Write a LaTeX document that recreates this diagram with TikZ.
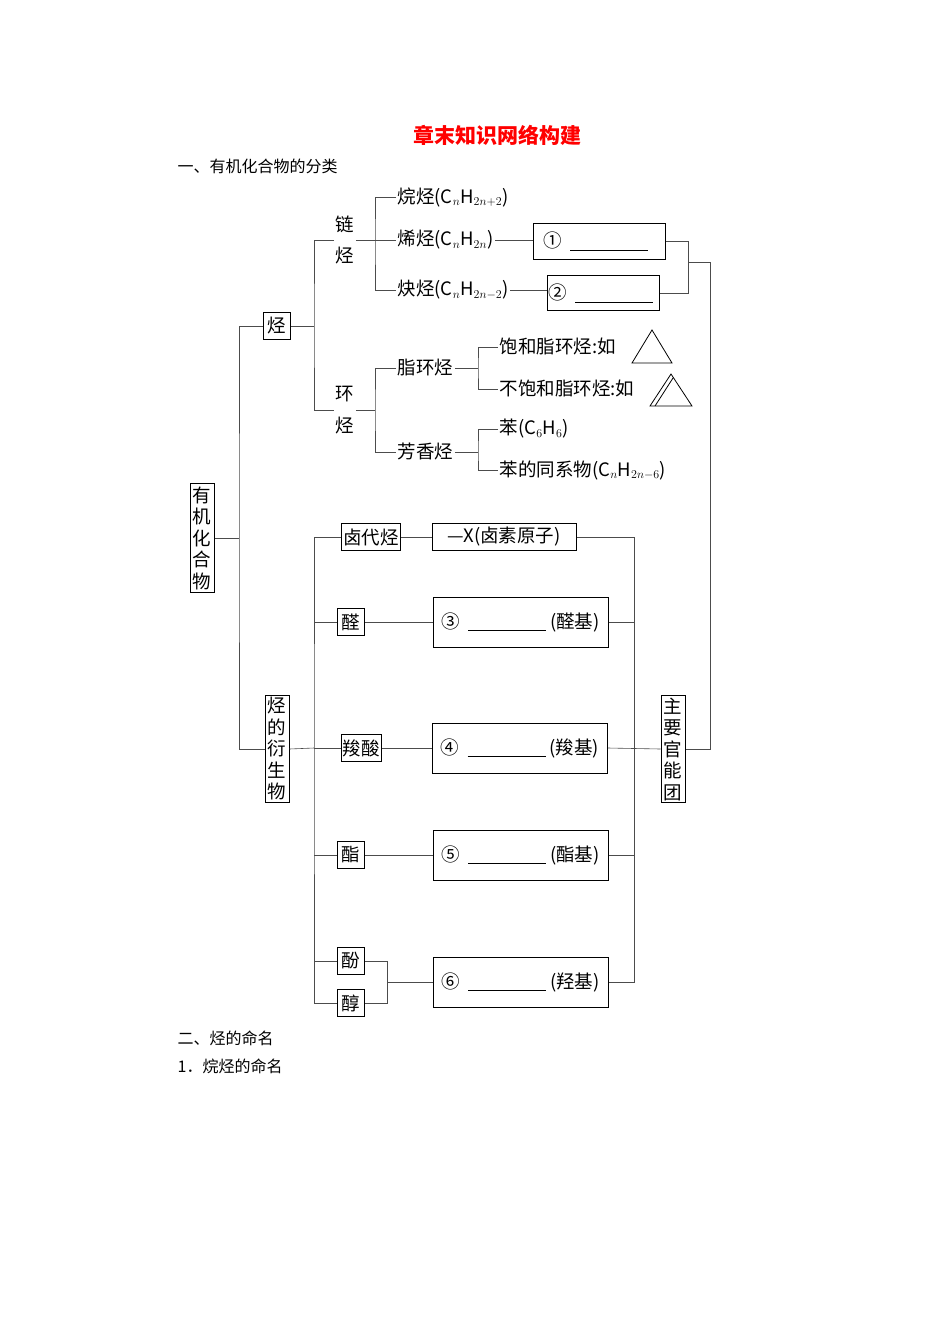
\documentclass[tikz,border=0pt]{standalone}
\usepackage{fontspec}
\setmainfont{Noto Sans CJK SC}
\begin{document}
\begin{tikzpicture}[x=1pt,y=-1pt,
  every node/.style={font=\fontsize{18.5}{18.5}\selectfont, inner sep=1.5pt},
  bx/.style={draw=black, line width=1pt, minimum height=27pt, minimum width=27pt},
  vbx/.style={draw=black, line width=1pt, text width=19pt, align=center, inner sep=2.5pt, font=\fontsize{18.5}{21.5}\selectfont},
  ln/.style={draw=black!70, line width=0.6pt},
  gb/.style={draw=black, line width=1pt, minimum width=175pt, minimum height=50pt}]
\useasboundingbox (0,0) rectangle (950,1344);
\node[text=red, font=\fontsize{21}{21}\selectfont\bfseries] (title) at (497,135) {章末知识网络构建};
\node[anchor=west, font=\fontsize{16}{16}\selectfont] (h1) at (176,166) {一、有机化合物的分类};
\node[anchor=west, font=\fontsize{16}{16}\selectfont] (h2) at (176,1038) {二、烃的命名};
\node[anchor=west, font=\fontsize{16}{16}\selectfont] (h3) at (176,1066) {1．烷烃的命名};

% root
\node[vbx] (org) at (202,538) {有\\机\\化\\合\\物};
\node[bx] (ting) at (277,326) {烃};
\node[vbx] (der) at (277,749) {烃\\的\\衍\\生\\物};
\draw[ln] (org.east) -- (239,538);
\draw[ln] (ting.west) -| (239,538) |- (der.west);

% hydrocarbons
\node (lian) at (345,240) {\shortstack{链\\[12pt]烃}};
\node (huan) at (345,410) {\shortstack{环\\[12pt]烃}};
\draw[ln] (ting.east) -- (314,326);
\draw[ln] (lian.west) -| (314,326) |- (huan.west);
\node[anchor=west] (wan) at (396,197) {烷烃(C$_{\scriptstyle n}$H$_{\scriptstyle 2n+2}$)};
\node[anchor=west] (xi) at (396,240) {烯烃(C$_{\scriptstyle n}$H$_{\scriptstyle 2n}$)};
\node[anchor=west] (que) at (396,290) {炔烃(C$_{\scriptstyle n}$H$_{\scriptstyle 2n-2}$)};
\draw[ln] (lian.east) -- (xi.west);
\draw[ln] (wan.west) -| (375,240) |- (que.west);
\node[anchor=west] (zhi) at (396,368) {脂环烃};
\node[anchor=west] (fang) at (396,452) {芳香烃};
\draw[ln] (huan.east) -- (375,410);
\draw[ln] (zhi.west) -| (375,410) |- (fang.west);
\node[anchor=west] (bao) at (498,347) {饱和脂环烃:如};
\node[anchor=west] (bubao) at (498,389) {不饱和脂环烃:如};
\draw[ln] (zhi.east) -- (478,368);
\draw[ln] (bao.west) -| (478,368) |- (bubao.west);
\node[anchor=west] (ben) at (498,429) {苯(C$_{\scriptstyle 6}$H$_{\scriptstyle 6}$)};
\node[anchor=west] (benx) at (498,470) {苯的同系物(C$_{\scriptstyle n}$H$_{\scriptstyle 2n-6}$)};
\draw[ln] (fang.east) -- (478,452);
\draw[ln] (ben.west) -| (478,452) |- (benx.west);
\draw[line width=0.8pt] (632,363) -- (652,330) -- (672,363) -- cycle;
\draw[line width=0.8pt] (650,406) -- (671,374) -- (692,406) -- cycle;
\draw[line width=0.8pt] (655,406) -- (673,378);

\node[draw=black, line width=1pt, minimum width=132pt, minimum height=36pt] (b1) at (599,241) {};
\node[anchor=west] (n1) at (542,241) {①\ \ \rule[-3pt]{78pt}{0.8pt}};
\node[draw=black, line width=1pt, minimum width=112pt, minimum height=35pt] (b2) at (603,293) {};
\node[anchor=west] (n2) at (547,293) {②\ \ \rule[-3pt]{78pt}{0.8pt}};
\draw[ln] (xi.east) -- (xi.east -| b1.west);
\draw[ln] (que.east) -- (que.east -| b2.west);
\draw[ln] (b1.east) -- (688,241) |- (b2.east);
\node[vbx] (zhu) at (673,749) {主\\要\\官\\能\\团};
\draw[ln] (688,262) -- (710,262) |- (zhu.east);

% derivatives
\node[bx] (lu) at (371,537) {卤代烃};
\node[bx] (quan) at (351,622) {醛};
\node[bx] (suo) at (361,748) {羧酸};
\node[bx] (zhi2) at (351,855) {酯};
\node[bx] (fen) at (351,961) {酚};
\node[bx] (chun) at (351,1003) {醇};
\draw[ln] (der.east) -- (314,748);
\draw[ln] (lu.west) -| (314,748) |- (chun.west);
\draw[ln] (quan.west) -- (314,622);
\draw[ln] (suo.west) -- (314,748);
\draw[ln] (zhi2.west) -- (314,855);
\draw[ln] (fen.west) -- (314,961);

\node[draw=black, line width=1pt, minimum width=144pt, minimum height=27pt] (xb) at (504,537) {—X(卤素原子)};
\node[gb] (g3) at (520.5,622) {③\ \ \rule[-3pt]{78pt}{0.8pt}\ (醛基)};
\node[gb] (g4) at (520,748) {④\ \ \rule[-3pt]{78pt}{0.8pt}\ (羧基)};
\node[gb] (g5) at (520.5,855) {⑤\ \ \rule[-3pt]{78pt}{0.8pt}\ (酯基)};
\node[gb] (g6) at (520.5,982) {⑥\ \ \rule[-3pt]{78pt}{0.8pt}\ (羟基)};
\draw[ln] (lu.east) -- (xb.west);
\draw[ln] (quan.east) -- (g3.west);
\draw[ln] (suo.east) -- (g4.west);
\draw[ln] (zhi2.east) -- (g5.west);
\draw[ln] (fen.east) -- (387,961) |- (chun.east);
\draw[ln] (387,982) -- (g6.west);
\draw[ln] (xb.east) -- (634,537) |- (g6.east);
\draw[ln] (g3.east) -- (634,622);
\draw[ln] (g4.east) -- (zhu.west);
\draw[ln] (g5.east) -- (634,855);
\end{tikzpicture}
\end{document}
